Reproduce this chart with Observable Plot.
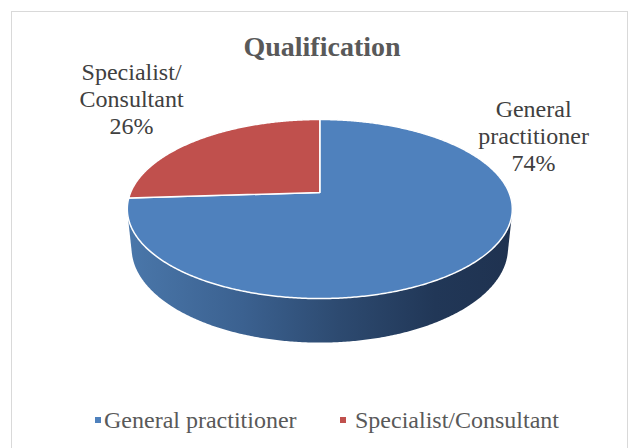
<!DOCTYPE html>
<html>
<head>
<meta charset="utf-8">
<script src="https://cdn.jsdelivr.net/npm/d3@7"></script>
<script src="https://cdn.jsdelivr.net/npm/@observablehq/plot@0.6"></script>
<style>
html, body { margin: 0; padding: 0; background: #fff; }
#wrap { position: relative; width: 631px; height: 448px; overflow: hidden; font-family: 'Liberation Serif', 'DejaVu Serif', serif; }
#frame { position: absolute; left: 11px; top: 11px; width: 617px; height: 460px; border: 1px solid #d9d9d9; box-sizing: border-box; }
#title { position: absolute; left: 0; width: 644px; top: 33px; text-align: center; font-size: 28px; line-height: 28px; font-weight: bold; color: #595959; font-family: 'Liberation Serif', 'DejaVu Serif', serif; }
#chart { position: absolute; left: 0; top: 50px; }
#legend { position: absolute; top: 408px; left: 0; width: 631px; height: 24px; font-size: 24px; line-height: 24px; color: #595959; font-family: 'Liberation Serif', 'DejaVu Serif', serif; }
.sw { position: absolute; width: 6px; height: 6px; top: 9px; }
.lt { position: absolute; top: 0; white-space: nowrap; }
#chart text { font-family: 'Liberation Serif', 'DejaVu Serif', serif; }
</style>
</head>
<body>
<div id="wrap">
  <div id="frame"></div>
  <div id="title">Qualification</div>
  <div id="chart"></div>
  <div id="legend"></div>
</div>
<script>
// ---- data ----
const categories = ["General practitioner", "Specialist/Consultant"];
const shares = [74, 26];
const labelLines = [["General", "practitioner"], ["Specialist/", "Consultant"]];

// ---- styles ----
const palette = ["#4f81bd", "#c0504d"];
const sideStops = [[0, "#4a77aa"], [0.3, "#3b6190"], [0.55, "#2d4a70"], [0.8, "#213757"], [1, "#1f3250"]];
const SERIF = "'Liberation Serif', 'DejaVu Serif', serif";

// ---- 3D pie projection (perspective, tilted disk) ----
const TILT = 27.2 * Math.PI / 180, DIST = 4.82, THICK = 0.233;
const sT = Math.sin(TILT), cT = Math.cos(TILT);
function project(phi, r, h) {
  const u = r * Math.sin(phi), v = -r * Math.cos(phi);
  const depth = DIST - v * cT - h * sT;
  return [u * DIST / depth, (v * sT - h * cT) * DIST / depth];
}

const total = d3.sum(shares);
let acc = 0;
const sliceRows = [];
categories.forEach((cat, i) => {
  const a0 = acc / total * 2 * Math.PI;
  acc += shares[i];
  const a1 = acc / total * 2 * Math.PI;
  const n = Math.max(2, Math.ceil((a1 - a0) / (Math.PI / 360)));
  const pts = [project(0, 0, 0)];
  for (let j = 0; j <= n; j++) pts.push(project(a0 + (a1 - a0) * j / n, 1, 0));
  pts.push(project(0, 0, 0));
  pts.forEach(([x, y]) => sliceRows.push({cat, x, y}));
});

const rimPts = [];
for (let j = 0; j < 720; j++) {
  const p = j * Math.PI / 360;
  rimPts.push(project(p, 1, 0), project(p, 1, -THICK));
}
const hull = d3.polygonHull(rimPts);
hull.push(hull[0]);
const sideRows = hull.map(([x, y]) => ({x, y}));

const labelAnchor = {"General practitioner": [1.13, -0.502], "Specialist/Consultant": [-0.995, -0.698]};
const labelRows = categories.map((cat, i) => ({
  cat,
  x: labelAnchor[cat][0],
  y: labelAnchor[cat][1],
  text: [...labelLines[i], shares[i] + "%"].join("\n")
}));

// ---- plot ----
const K = 189.2, CX = 319.3, CY = 192, TOP = 50, H = 310, W = 631;
const plot = Plot.plot({
  width: W, height: H, margin: 0,
  x: {domain: [-CX / K, (W - CX) / K], range: [0, W], axis: null},
  y: {domain: [(TOP - CY) / K, (TOP + H - CY) / K], range: [0, H], axis: null},
  color: {domain: categories, range: palette},
  style: {background: "transparent", overflow: "visible", fontFamily: SERIF},
  marks: [
    Plot.line(sideRows, {x: "x", y: "y", fill: "url(#sideGrad)", stroke: "none"}),
    Plot.line(sliceRows, {x: "x", y: "y", z: "cat", fill: "cat", stroke: "white", strokeWidth: 1.5, strokeLinejoin: "round"}),
    Plot.text(labelRows, {x: "x", y: "y", text: "text", lineAnchor: "top", lineHeight: 1.125, fontSize: 24, fontFamily: SERIF, fill: "#404040", textAnchor: "middle"})
  ]
});
const svg = d3.select(plot);
const grad = svg.insert("defs", ":first-child").append("linearGradient")
  .attr("id", "sideGrad").attr("x1", 0).attr("x2", 1).attr("y1", 0).attr("y2", 0);
sideStops.forEach(([o, c]) => grad.append("stop").attr("offset", o).attr("stop-color", c));
document.getElementById("chart").appendChild(plot);

// ---- legend ----
const legendPos = [[95, 104], [340, 355]];
const legend = d3.select("#legend");
categories.forEach((cat, i) => {
  legend.append("div").attr("class", "sw").style("left", legendPos[i][0] + "px").style("background", palette[i]);
  legend.append("div").attr("class", "lt").style("left", legendPos[i][1] + "px").text(cat);
});
</script>
</body>
</html>
